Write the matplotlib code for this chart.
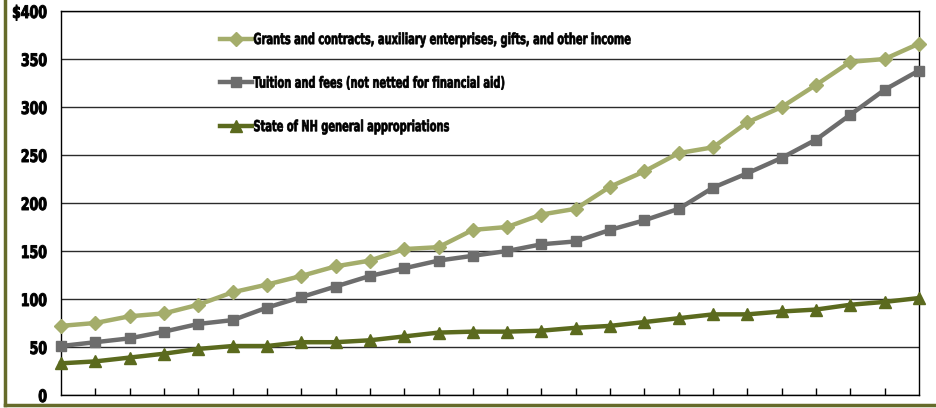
import numpy as np
import matplotlib
matplotlib.use("Agg")
import matplotlib.pyplot as plt
from matplotlib import font_manager, patheffects
from matplotlib.lines import Line2D
from matplotlib.transforms import Affine2D

# -----------------------------
# Revenue by source ($ millions), one value per year
# -----------------------------
grants = [72, 75, 82, 85, 94, 107, 115, 124, 134, 140, 152, 154, 172,
          175, 188, 194, 217, 233, 252, 258, 284, 300, 323, 347, 350, 366]
tuition = [51, 55, 59, 66, 74, 78, 91, 102, 113, 124, 132, 140, 145,
           150, 157, 160, 172, 182, 194, 216, 231, 247, 266, 292, 318, 338]
state = [33, 35, 39, 43, 48, 51, 51, 55, 55, 57, 61, 65, 66,
         66, 67, 70, 72, 76, 80, 84, 84, 87, 89, 94, 97, 101]

labels = [
    "Grants and contracts, auxiliary enterprises, gifts, and other income",
    "Tuition and fees (not netted for financial aid)",
    "State of NH general appropriations",
]
y_ticks = [0, 50, 100, 150, 200, 250, 300, 350, 400]
y_ticklabels = ["0", "50", "100", "150", "200", "250", "300", "350", "$400"]


# narrow bold face for all text, best one that is installed
def find_narrow_bold():
    wanted = ["liberationsansnarrow-bold.", "notosans-condensedbold.",
              "dejavusanscondensed-bold.", "robotocondensed-bold.",
              "notosans-semicondensedbold.", "lato-bold."]
    files = [f.fname for f in font_manager.fontManager.ttflist]
    for w in wanted:
        for fn in files:
            if fn.lower().split("/")[-1].startswith(w):
                return fn
    return None


narrow = find_narrow_bold()


def bold_font(size):
    if narrow:
        return font_manager.FontProperties(fname=narrow, size=size)
    return font_manager.FontProperties(family="DejaVu Sans", weight="bold", size=size)


class Squeeze(patheffects.AbstractPathEffect):
    """Draw text glyphs narrowed horizontally, with an optional outline for extra weight."""

    def __init__(self, sx, align="left", stroke=0.0):
        super().__init__()
        self.sx = sx
        self.align = align
        self.stroke = stroke

    def draw_path(self, renderer, gc, tpath, affine, rgbFace=None):
        w = tpath.get_extents().x1 if self.align == "right" else 0.0
        pre = Affine2D().translate(-w, 0).scale(self.sx, 1).translate(w, 0)
        if self.stroke > 0:
            gc0 = renderer.new_gc()
            gc0.copy_properties(gc)
            gc0.set_foreground(rgbFace)
            gc0.set_linewidth(self.stroke)
            renderer.draw_path(gc0, tpath, pre + affine, rgbFace)
            gc0.restore()
        else:
            renderer.draw_path(gc, tpath, pre + affine, rgbFace)


x = np.arange(len(grants))

fig = plt.figure(figsize=(9.36, 4.08), dpi=100)
ax = fig.add_axes([61 / 936, 1 - 395 / 408, (919 - 61) / 936, (395 - 11) / 408])
renderer = fig.canvas.get_renderer()

ax.plot(x, grants, color="#A4AD6B", lw=3.2, marker="D", ms=7,
        label=labels[0], zorder=3, clip_on=False)
ax.plot(x, tuition, color="#6D6D6D", lw=3.2, marker="s", ms=7,
        label=labels[1], zorder=3, clip_on=False)
ax.plot(x, state, color="#5B6A1E", lw=3.2, marker="^", ms=8.5,
        label=labels[2], zorder=3, clip_on=False)

ax.set_xlim(0, len(grants) - 1)
ax.set_ylim(0, 400)
ax.set_xticks(x[1:-1])
ax.set_xticklabels([])
ax.tick_params(axis="x", direction="in", length=5, width=1, color="black")

# y tick labels: condensed bold, "350" about 26 px wide
tick_font = bold_font(12.4)
w350 = renderer.get_text_width_height_descent("350", tick_font, ismath=False)[0]
ax.set_yticks(y_ticks)
ax.set_yticklabels(y_ticklabels, fontproperties=tick_font)
for t in ax.get_yticklabels():
    t.set_path_effects([Squeeze(26.0 / w350, align="right", stroke=0.7)])
ax.tick_params(axis="y", length=0, pad=10)

ax.yaxis.grid(True, color="#2b2b2b", lw=1)
ax.set_axisbelow(True)
for side in ["left", "bottom", "right", "top"]:
    ax.spines[side].set_color("black")
    ax.spines[side].set_linewidth(1)

# legend inside the plot, top left, no frame
leg_font = bold_font(11)
w_long = renderer.get_text_width_height_descent(labels[0], leg_font, ismath=False)[0]
leg = ax.legend(loc="upper left", bbox_to_anchor=(0.178, 0.961), frameon=False,
                prop=leg_font, handlelength=2.1, handletextpad=0.1,
                labelspacing=1.87, borderaxespad=0)
for t in leg.get_texts():
    t.set_path_effects([Squeeze(377.0 / w_long, stroke=0.5)])

# olive frame on the left and bottom edge
fig.add_artist(Line2D([5 / 936, 5 / 936], [3 / 408, 1], color="#656B2A", lw=2.5))
fig.add_artist(Line2D([5 / 936, 1], [3 / 408, 3 / 408], color="#656B2A", lw=2.5))

fig.savefig("out.png", dpi=100)
